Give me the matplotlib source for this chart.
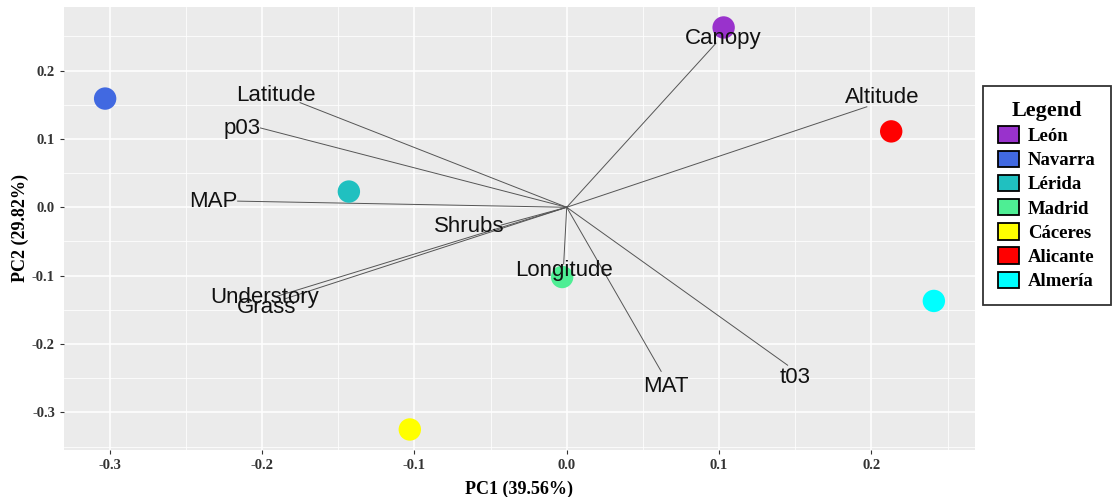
import matplotlib
matplotlib.use("Agg")
import matplotlib.pyplot as plt
from matplotlib.patches import Patch
from matplotlib.ticker import MultipleLocator

# site scores (PC1, PC2)
sites = ["León", "Navarra", "Lérida", "Madrid", "Cáceres", "Alicante", "Almería"]
site_pc1 = [0.103, -0.303, -0.143, -0.003, -0.103, 0.213, 0.241]
site_pc2 = [0.263, 0.159, 0.023, -0.102, -0.325, 0.111, -0.137]
site_colors = ["#9932CC", "#4169E1", "#20C0C0", "#4EEE94", "#FFFF00", "#FF0000", "#00FFFF"]

# variable loadings (arrow tips) and label positions
variables = ["Canopy", "Altitude", "Latitude", "p03", "MAP", "Shrubs",
             "Understory", "Grass", "Longitude", "MAT", "t03"]
load_pc1 = [0.098, 0.197, -0.175, -0.201, -0.216, -0.043, -0.190, -0.185, -0.002, 0.062, 0.145]
load_pc2 = [0.240, 0.147, 0.153, 0.116, 0.009, -0.026, -0.130, -0.134, -0.083, -0.240, -0.231]
label_pc1 = [0.103, 0.207, -0.191, -0.213, -0.232, -0.064, -0.198, -0.197, -0.002, 0.065, 0.150]
label_pc2 = [0.247, 0.161, 0.163, 0.115, 0.009, -0.028, -0.132, -0.146, -0.093, -0.262, -0.249]

serif = ["Liberation Serif", "DejaVu Serif"]

fig = plt.figure(figsize=(11.13, 4.97), dpi=100)
ax = fig.add_axes([0.0575, 0.0946, 0.8185, 0.8914])
ax.set_facecolor("#EBEBEB")
for s in ax.spines.values():
    s.set_visible(False)

ax.xaxis.set_major_locator(MultipleLocator(0.1))
ax.xaxis.set_minor_locator(MultipleLocator(0.05))
ax.yaxis.set_major_locator(MultipleLocator(0.1))
ax.yaxis.set_minor_locator(MultipleLocator(0.05))
ax.grid(True, which="major", color="white", linewidth=1.1)
ax.grid(True, which="minor", color="white", linewidth=0.55)
ax.set_axisbelow(True)
ax.tick_params(which="minor", length=0)
ax.tick_params(which="major", length=3, color="#333333")

# arrows from the origin to each loading
for x, y in zip(load_pc1, load_pc2):
    ax.plot([0, x], [0, y], color="#555555", linewidth=0.7, zorder=2)

ax.scatter(site_pc1, site_pc2, s=260, c=site_colors, edgecolors="none", zorder=3)

for lx, ly, name in zip(label_pc1, label_pc2, variables):
    ax.text(lx, ly, name, ha="center", va="center", fontsize=16,
            family=["Liberation Sans", "DejaVu Sans"], color="#111111", zorder=4)

ax.set_xlim(-0.330, 0.268)
ax.set_ylim(-0.355, 0.293)
ticks = [-0.3, -0.2, -0.1, 0.0, 0.1, 0.2]
tick_labels = ["-0.3", "-0.2", "-0.1", "0.0", "0.1", "0.2"]
ax.set_xticks(ticks)
ax.set_yticks(ticks)
ax.set_xticklabels(tick_labels)
ax.set_yticklabels(tick_labels)
for lab in ax.get_xticklabels() + ax.get_yticklabels():
    lab.set_family(serif)
    lab.set_fontweight("bold")
    lab.set_fontsize(10.5)
    lab.set_color("#333333")

ax.set_xlabel("PC1 (39.56%)", family=serif, fontweight="bold", fontsize=13, labelpad=6)
ax.set_ylabel("PC2 (29.82%)", family=serif, fontweight="bold", fontsize=13, labelpad=2)

handles = [Patch(facecolor=c, edgecolor="black", linewidth=1.3) for c in site_colors]
leg = fig.legend(handles, sites, loc="center", bbox_to_anchor=(0.9407, 0.6066),
                 title="Legend", frameon=True, fancybox=False,
                 prop={"family": serif, "weight": "bold", "size": 13.5},
                 title_fontproperties={"family": serif, "weight": "bold", "size": 16},
                 handlelength=1.12, handleheight=0.96, handletextpad=0.48,
                 labelspacing=0.3, borderpad=0.8)
leg.get_frame().set_edgecolor("black")
leg.get_frame().set_linewidth(1.3)

fig.savefig("out.png", dpi=100)
